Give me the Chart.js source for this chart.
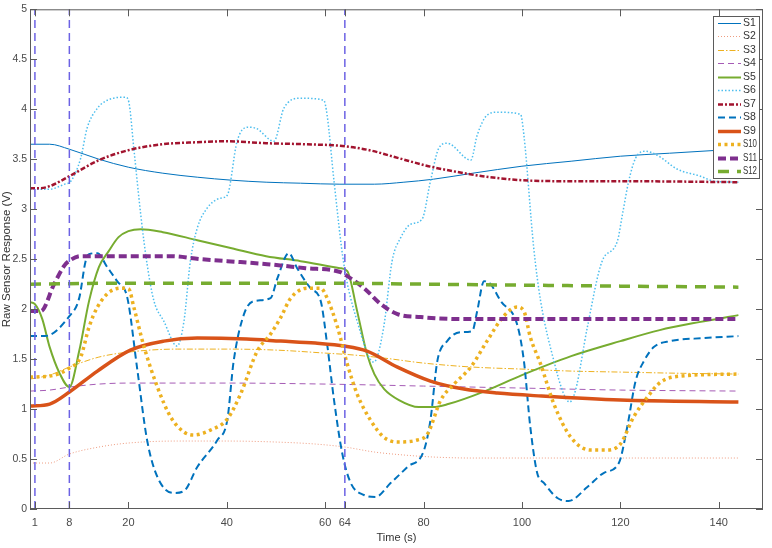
<!DOCTYPE html>
<html>
<head>
<meta charset="utf-8">
<title>Raw sensor response</title>
<script src="https://cdn.jsdelivr.net/npm/chart.js@4.4.1/dist/chart.umd.min.js"></script>
<style>
  html, body { margin: 0; padding: 0; background: #fff; }
</style>
</head>
<body>
<canvas id="sensors" width="772" height="548"></canvas>
<script>
// tick labels the way the figure shows them
const xTicks = [1, 8, 20, 40, 60, 64, 80, 100, 120, 140];
const yTicks = [0, 0.5, 1, 1.5, 2, 2.5, 3, 3.5, 4, 4.5, 5];
// the three dashed marker lines (seconds)
const markerTimes = [1, 8, 64];

// every sensor has its own time points
const s1T = [0, 4, 8, 14, 20, 27, 34, 41, 48, 55, 63, 70, 76, 82, 90, 100, 110, 120, 130, 140, 144];
const s1V = [3.65, 3.65, 3.60, 3.50, 3.42, 3.36, 3.32, 3.29, 3.27, 3.26, 3.25, 3.25, 3.27, 3.30, 3.36, 3.43, 3.48, 3.53, 3.56, 3.59, 3.60];

const s2T = [0, 4, 8, 14, 20, 30, 40, 50, 58, 64, 70, 76, 82, 90, 100, 120, 144];
const s2V = [0.46, 0.46, 0.55, 0.62, 0.66, 0.68, 0.68, 0.67, 0.65, 0.62, 0.57, 0.54, 0.52, 0.51, 0.51, 0.51, 0.51];

const s3T = [0, 4, 8, 14, 20, 30, 40, 50, 60, 66, 72, 80, 90, 100, 110, 120, 130, 144];
const s3V = [1.30, 1.34, 1.42, 1.52, 1.57, 1.60, 1.60, 1.59, 1.56, 1.54, 1.51, 1.46, 1.42, 1.40, 1.38, 1.37, 1.36, 1.35];

const s4T = [0, 4, 8, 14, 20, 40, 60, 80, 100, 120, 144];
const s4V = [1.18, 1.19, 1.22, 1.25, 1.26, 1.26, 1.25, 1.23, 1.21, 1.19, 1.18];

const s5T = [0, 1, 2.5, 4, 6, 8, 10, 12, 14, 16, 18, 20, 22.5, 27, 34, 41, 48, 55, 63, 64.5, 66.5, 68.5, 70, 72, 75, 79, 82, 85, 92, 100, 110, 120, 128, 136, 144];
const s5V = [2.07, 2.05, 1.90, 1.62, 1.36, 1.22, 1.58, 2.08, 2.42, 2.58, 2.72, 2.78, 2.80, 2.77, 2.69, 2.61, 2.53, 2.48, 2.41, 2.38, 1.98, 1.55, 1.35, 1.20, 1.09, 1.02, 1.02, 1.05, 1.17, 1.34, 1.53, 1.68, 1.79, 1.87, 1.94];

const s6T = [0, 4, 7, 8.3, 10.3, 11.6, 13.7, 15.7, 19.4, 20.1, 21.1, 22.5, 23.8, 25.2, 27.2, 29.9, 31.3, 32.6, 34, 36, 38.7, 40.1, 42.1, 44.2, 45.9, 49.6, 51.6, 55, 59.7, 60.4, 61.8, 63.8, 66.5, 69.9, 71.9, 73.6, 75.3, 77.4, 79.7, 81.4, 83.1, 84.8, 89.6, 90.9, 92.9, 95, 99.7, 100.4, 102.4, 103.8, 106.5, 108.5, 109.7, 110.9, 113.3, 116.3, 119.4, 120.4, 121.7, 123.1, 125.1, 127.5, 131.6, 136.3, 139, 144];
const s6V = [3.20, 3.20, 3.25, 3.28, 3.51, 3.81, 4.01, 4.09, 4.12, 4.07, 3.61, 2.95, 2.45, 2.08, 1.88, 1.63, 1.88, 2.48, 2.81, 3.01, 3.11, 3.14, 3.68, 3.82, 3.81, 3.68, 4.01, 4.11, 4.09, 3.94, 3.28, 2.45, 1.88, 1.47, 1.82, 2.48, 2.71, 2.85, 2.90, 3.28, 3.61, 3.66, 3.49, 3.74, 3.94, 3.97, 3.95, 3.74, 2.61, 2.08, 1.48, 1.15, 1.07, 1.19, 1.82, 2.48, 2.68, 2.94, 3.28, 3.51, 3.58, 3.54, 3.40, 3.33, 3.28, 3.27];

const s7T = [0, 2, 4, 8, 14, 20, 27, 34, 40, 48, 56, 64, 69, 75, 81, 86, 92, 100, 110, 120, 144];
const s7V = [3.21, 3.21, 3.23, 3.33, 3.49, 3.59, 3.65, 3.67, 3.68, 3.66, 3.65, 3.63, 3.59, 3.51, 3.43, 3.38, 3.33, 3.29, 3.28, 3.28, 3.27];

const s8T = [0, 3, 8, 10, 11.3, 12, 13.7, 15.7, 17.7, 19.8, 21.8, 23.8, 25.9, 29.2, 31.3, 34, 38.1, 40.1, 41.4, 43.5, 45.5, 48.9, 50.3, 52.6, 54.3, 57, 59.1, 60.4, 61.8, 63.5, 65.2, 67.9, 70.2, 73.3, 76.7, 80.1, 81.4, 82.8, 84.8, 87.5, 89.9, 90.9, 92.3, 93.6, 95.7, 99, 100.4, 101.7, 103.1, 104.5, 107.2, 109.5, 113.3, 116.6, 119.7, 121.4, 123.1, 124.8, 126.8, 130.2, 137, 144];
const s8V = [1.73, 1.73, 1.93, 2.11, 2.48, 2.55, 2.56, 2.42, 2.28, 2.11, 1.40, 0.69, 0.32, 0.16, 0.18, 0.42, 0.69, 0.89, 1.48, 1.95, 2.08, 2.11, 2.31, 2.56, 2.41, 2.21, 2.08, 1.65, 1.09, 0.55, 0.26, 0.14, 0.12, 0.26, 0.42, 0.59, 0.89, 1.48, 1.68, 1.77, 1.78, 1.98, 2.28, 2.25, 2.08, 1.85, 1.48, 0.82, 0.36, 0.26, 0.11, 0.08, 0.22, 0.36, 0.46, 0.82, 1.28, 1.48, 1.62, 1.68, 1.71, 1.73];

const s9T = [0, 4, 8, 13.7, 20.4, 27.2, 34, 44, 51, 58, 64, 68.5, 74.7, 81.4, 88.2, 95, 104, 120, 144];
const s9V = [1.03, 1.05, 1.17, 1.38, 1.59, 1.68, 1.71, 1.70, 1.68, 1.66, 1.63, 1.58, 1.42, 1.28, 1.20, 1.16, 1.13, 1.09, 1.07];

const s10T = [0, 4, 8, 10.3, 12, 13.7, 16.4, 19.1, 20.1, 21.1, 23.2, 25.9, 28.6, 31.3, 33.3, 36.7, 40.1, 42.8, 46.2, 48.9, 51, 53, 56.4, 59.1, 60.4, 62.5, 64.5, 66.5, 69.2, 71.9, 74.7, 78.7, 80.8, 83.5, 86.2, 89.6, 92.9, 96.3, 99, 100.4, 101.7, 103.8, 106.5, 109.9, 113.9, 117.3, 120, 122.7, 125.5, 128.2, 132.2, 144];
const s10V = [1.32, 1.33, 1.41, 1.52, 1.82, 2.02, 2.18, 2.21, 2.20, 2.02, 1.62, 1.22, 0.92, 0.77, 0.74, 0.79, 0.90, 1.15, 1.58, 1.75, 1.92, 2.11, 2.21, 2.21, 2.11, 1.82, 1.45, 1.15, 0.89, 0.72, 0.67, 0.69, 0.75, 1.09, 1.25, 1.42, 1.68, 1.93, 2.02, 1.98, 1.72, 1.45, 1.05, 0.72, 0.59, 0.59, 0.65, 0.92, 1.12, 1.27, 1.33, 1.35];

const s11T = [0, 2.2, 4.9, 6.9, 7.9, 10.3, 20.4, 28.6, 34.7, 40.1, 48.2, 56, 63.1, 64.5, 67.9, 71.3, 74.7, 79.4, 88, 100, 120, 144];
const s11V = [1.98, 1.98, 2.25, 2.43, 2.48, 2.53, 2.53, 2.53, 2.50, 2.48, 2.45, 2.41, 2.37, 2.33, 2.21, 2.05, 1.95, 1.92, 1.90, 1.90, 1.90, 1.90];

const s12T = [0, 20, 40, 60, 80, 100, 120, 144];
const s12V = [2.25, 2.26, 2.26, 2.26, 2.25, 2.24, 2.23, 2.22];

// matlab-ish colours + line styles, one row per sensor
const series = [
  { name: "S1",  t: s1T,  v: s1V,  color: "#0072BD", width: 1,   dash: [] },
  { name: "S2",  t: s2T,  v: s2V,  color: "#EE9C80", width: 1,   dash: [1, 2] },
  { name: "S3",  t: s3T,  v: s3V,  color: "#EDB120", width: 1,   dash: [6, 2, 1.5, 2] },
  { name: "S4",  t: s4T,  v: s4V,  color: "#A55BB5", width: 1,   dash: [6, 4] },
  { name: "S5",  t: s5T,  v: s5V,  color: "#77AC30", width: 2,   dash: [] },
  { name: "S6",  t: s6T,  v: s6V,  color: "#4DBEEE", width: 1.5, dash: [1.5, 2] },
  { name: "S7",  t: s7T,  v: s7V,  color: "#A2142F", width: 2.5, dash: [5, 2, 2, 2] },
  { name: "S8",  t: s8T,  v: s8V,  color: "#0072BD", width: 2,   dash: [7, 4] },
  { name: "S9",  t: s9T,  v: s9V,  color: "#D95319", width: 3.5, dash: [] },
  { name: "S10", t: s10T, v: s10V, color: "#EDB120", width: 3.5, dash: [3, 3.5] },
  { name: "S11", t: s11T, v: s11V, color: "#7E2F8E", width: 4,   dash: [8, 4] },
  { name: "S12", t: s12T, v: s12V, color: "#77AC30", width: 3.5, dash: [11, 8] }
];

const fontFam = "'Liberation Sans Narrow', 'Liberation Sans', Arial, sans-serif";
const tickFont = { family: fontFam, size: 11 };
const axisGrey = "#5b5b5b";

const datasets = series.map(function (s, i) {
  return {
    label: s.name,
    data: s.t.map(function (t, k) { return { x: t, y: s.v[k] }; }),
    borderColor: s.color,
    borderWidth: s.width,
    borderDash: s.dash,
    pointRadius: 0,
    fill: false,
    cubicInterpolationMode: "monotone",
    order: series.length - i   // later sensors on top, like matlab
  };
});

// the vertical dashed markers, from 0 to 5 V
markerTimes.forEach(function (t) {
  datasets.push({
    label: "marker",
    data: [{ x: t, y: 0 }, { x: t, y: 5 }],
    borderColor: "rgb(108,98,228)",
    borderWidth: 1.5,
    borderDash: [8, 5],
    pointRadius: 0,
    order: 0
  });
});

// box round the plot + inward ticks on all four sides
const frame = {
  id: "frame",
  afterDatasetsDraw(chart) {
    const ctx = chart.ctx, a = chart.chartArea;
    const x = chart.scales.x, y = chart.scales.y;
    ctx.save();
    ctx.strokeStyle = axisGrey;
    ctx.lineWidth = 1;
    ctx.setLineDash([]);
    ctx.strokeRect(a.left + 0.5, a.top + 0.5, a.right - a.left - 1, a.bottom - a.top - 1);
    ctx.beginPath();
    xTicks.forEach(function (t) {
      const px = Math.round(x.getPixelForValue(t)) + 0.5;
      ctx.moveTo(px, a.bottom); ctx.lineTo(px, a.bottom - 7);
      ctx.moveTo(px, a.top); ctx.lineTo(px, a.top + 7);
    });
    yTicks.forEach(function (v) {
      const py = Math.round(y.getPixelForValue(v)) + 0.5;
      ctx.moveTo(a.left, py); ctx.lineTo(a.left + 7, py);
      ctx.moveTo(a.right, py); ctx.lineTo(a.right - 7, py);
    });
    ctx.stroke();
    ctx.restore();
  }
};

// legend sits inside the plot at the top right, so drawn by hand
const boxLegend = {
  id: "boxLegend",
  afterDraw(chart) {
    const ctx = chart.ctx;
    const bx = 713, by = 16, bw = 46, bh = 162;
    const rowH = bh / series.length;
    ctx.save();
    ctx.fillStyle = "#fff";
    ctx.fillRect(bx, by, bw, bh);
    ctx.strokeStyle = axisGrey;
    ctx.lineWidth = 1;
    ctx.strokeRect(bx + 0.5, by + 0.5, bw, bh);
    ctx.font = "10.5px " + fontFam;
    ctx.textBaseline = "middle";
    series.forEach(function (s, i) {
      const cy = Math.round(by + rowH * (i + 0.5)) + 0.5;
      ctx.strokeStyle = s.color;
      ctx.lineWidth = s.width;
      ctx.setLineDash(s.dash);
      ctx.beginPath();
      ctx.moveTo(bx + 5, cy);
      ctx.lineTo(bx + 28, cy);
      ctx.stroke();
      ctx.fillStyle = "#333";
      // squeeze the text a bit, matlab font is narrower
      ctx.fillText(s.name, bx + 30, cy, 14);
    });
    ctx.restore();
  }
};

new Chart("sensors", {
  type: "line",
  data: { datasets: datasets },
  plugins: [frame, boxLegend],
  options: {
    responsive: false,
    animation: false,
    layout: { padding: { top: 7, right: 9, left: 0, bottom: 0 } },
    plugins: {
      legend: { display: false },
      tooltip: { enabled: false }
    },
    scales: {
      x: {
        type: "linear",
        min: 0,
        max: 149,
        afterBuildTicks: function (scale) {
          scale.ticks = xTicks.map(function (v) { return { value: v }; });
        },
        afterFit: function (scale) { scale.height = 39; },
        grid: { display: false, drawTicks: false },
        border: { display: false },
        ticks: { color: "#4a4a4a", font: tickFont, padding: 7, maxRotation: 0, autoSkip: false,
                 callback: function (v) { return String(v); } },
        title: { display: true, text: "Time (s)", color: "#333", font: tickFont, padding: { top: 2, bottom: 3 } }
      },
      y: {
        type: "linear",
        min: 0,
        max: 5,
        afterBuildTicks: function (scale) {
          scale.ticks = yTicks.map(function (v) { return { value: v }; });
        },
        afterFit: function (scale) { scale.width = 30; },
        grid: { display: false, drawTicks: false },
        border: { display: false },
        ticks: { color: "#4a4a4a", font: { family: fontFam, size: 10.5 }, padding: 3, autoSkip: false,
                 callback: function (v) { return String(v); } },
        title: { display: true, text: "Raw Sensor Response (V)", color: "#333", font: { family: fontFam, size: 11.5 }, padding: { top: 0, bottom: 0 } }
      }
    }
  }
});
</script>
</body>
</html>
